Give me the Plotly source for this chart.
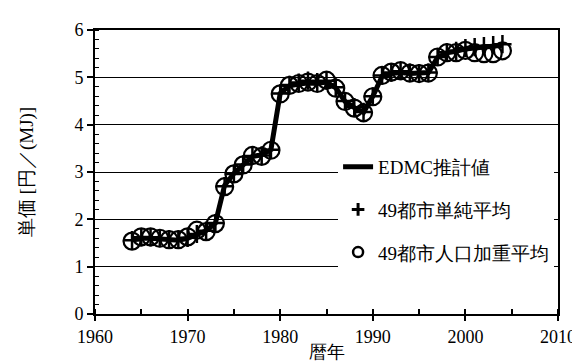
import plotly.graph_objects as go

years = list(range(1964, 2005))

edmc = [1.56, 1.60, 1.60, 1.58, 1.57, 1.56, 1.60, 1.68, 1.76, 1.92,
        2.72, 2.97, 3.16, 3.33, 3.36, 3.47, 4.66, 4.82, 4.86, 4.88,
        4.87, 4.90, 4.78, 4.49, 4.36, 4.26, 4.60, 5.02, 5.08, 5.10,
        5.08, 5.08, 5.10, 5.42, 5.52, 5.55, 5.60, 5.62, 5.64, 5.66,
        5.68]

simple_avg = [1.56, 1.62, 1.62, 1.60, 1.58, 1.57, 1.61, 1.69, 1.76, 1.92,
              2.70, 2.96, 3.16, 3.34, 3.35, 3.47, 4.66, 4.84, 4.89, 4.93,
              4.90, 4.93, 4.79, 4.50, 4.37, 4.27, 4.60, 5.04, 5.10, 5.13,
              5.10, 5.09, 5.10, 5.43, 5.53, 5.56, 5.62, 5.64, 5.66, 5.68,
              5.70]

weighted_avg = [1.54, 1.63, 1.63, 1.60, 1.57, 1.57, 1.63, 1.77, 1.74, 1.91,
                2.69, 2.96, 3.15, 3.35, 3.33, 3.46, 4.65, 4.83, 4.87, 4.90,
                4.87, 4.94, 4.77, 4.49, 4.35, 4.25, 4.59, 5.04, 5.11, 5.14,
                5.09, 5.08, 5.09, 5.43, 5.52, 5.52, 5.57, 5.52, 5.50, 5.50,
                5.56]

names = ["EDMC推計値", "49都市単純平均", "49都市人口加重平均"]
x_ticks = [1960, 1970, 1980, 1990, 2000, 2010]
y_ticks = [0, 1, 2, 3, 4, 5, 6]

FONT = "Times New Roman"

fig = go.Figure()
# data traces
fig.add_trace(go.Scatter(x=years, y=edmc, mode="lines", showlegend=False,
                         line=dict(color="black", width=5)))
fig.add_trace(go.Scatter(x=years, y=simple_avg, mode="markers", showlegend=False,
                         marker=dict(symbol="cross-thin", size=13, color="black",
                                     line=dict(color="black", width=2.5))))
fig.add_trace(go.Scatter(x=years, y=weighted_avg, mode="markers", showlegend=False,
                         marker=dict(symbol="circle-open", size=17, color="black",
                                     line=dict(color="black", width=2.2))))
# legend entries
fig.add_trace(go.Scatter(x=[None], y=[None], mode="lines", name=names[0],
                         legendgroup="a", line=dict(color="black", width=5)))
fig.add_trace(go.Scatter(x=[None], y=[None], mode="markers", name=names[1],
                         legendgroup="b",
                         marker=dict(symbol="cross-thin", size=9, color="black",
                                     line=dict(color="black", width=3))))
fig.add_trace(go.Scatter(x=[None], y=[None], mode="markers", name=names[2],
                         legendgroup="c",
                         marker=dict(symbol="circle-open", size=10, color="black",
                                     line=dict(color="black", width=2.5))))

fig.update_layout(
    width=580, height=363,
    margin=dict(l=87, r=23, t=19, b=54),
    paper_bgcolor="white", plot_bgcolor="white",
    font=dict(family=FONT, size=18, color="black"),
    showlegend=True,
    legend=dict(x=0.525, y=0.585, xanchor="left", yanchor="top",
                bgcolor="white", borderwidth=0,
                font=dict(size=19, family=FONT),
                tracegroupgap=15, traceorder="grouped",
                itemsizing="trace"),
)

fig.update_xaxes(range=[1960, 2010], tickvals=x_ticks, ticktext=[str(v) for v in x_ticks],
                 tickfont=dict(family=FONT, size=18),
                 showgrid=False, zeroline=False,
                 showline=True, linecolor="black", linewidth=2, mirror=True,
                 ticks="outside", ticklen=5, tickwidth=1.5, tickcolor="black",
                 minor=dict(dtick=5, ticks="inside", ticklen=5, tickwidth=1.5, tickcolor="black", showgrid=False),
                 title=dict(text="暦年", font=dict(family=FONT, size=18), standoff=0))

fig.update_yaxes(range=[0, 6], tickvals=y_ticks, ticktext=[str(v) for v in y_ticks],
                 tickfont=dict(family=FONT, size=18),
                 showgrid=True, gridcolor="black", gridwidth=1, zeroline=False,
                 showline=True, linecolor="black", linewidth=2, mirror=True,
                 ticks="outside", ticklen=6, tickwidth=1.5, tickcolor="black",
                 minor=dict(dtick=0.2, ticks="inside", ticklen=4, tickwidth=1, tickcolor="black", showgrid=False),
                 title=dict(text="単価 [円／(MJ)]", font=dict(family=FONT, size=19), standoff=36))

fig.write_html("out.html")
